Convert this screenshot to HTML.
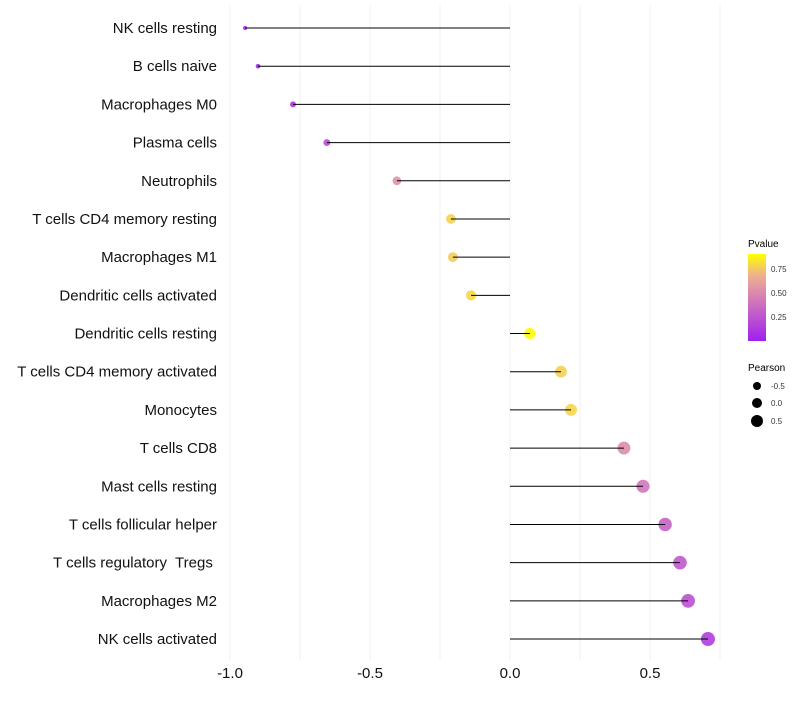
<!DOCTYPE html>
<html><head><meta charset="utf-8"><style>
body{margin:0;background:#fff;font-family:"Liberation Sans",sans-serif}
svg text{font-family:"Liberation Sans",sans-serif}
</style></head><body>
<svg id="c" width="800" height="700" xmlns="http://www.w3.org/2000/svg">
<defs><linearGradient id="pg" x1="0" y1="1" x2="0" y2="0">
<stop offset="0" stop-color="#A020F0"/><stop offset="0.5" stop-color="#D67FB5"/><stop offset="0.75" stop-color="#EDB090"/><stop offset="1" stop-color="#FFFF00"/></linearGradient></defs>
<g id="grid"></g>
<g id="marks"></g>
<g id="ylab"></g>
<g id="xlab"></g>
<g>
<text x="748" y="247" font-size="10">Pvalue</text>
<rect x="748" y="254" width="18" height="87" fill="url(#pg)"/>
<text x="771" y="272" font-size="8" fill="#333">0.75</text>
<text x="771" y="296" font-size="8" fill="#333">0.50</text>
<text x="771" y="320" font-size="8" fill="#333">0.25</text>
</g>
<g>
<text x="748" y="371" font-size="10">Pearson</text>
<circle cx="757" cy="386" r="4"/><text x="771" y="389" font-size="8" fill="#333">-0.5</text>
<circle cx="757" cy="403" r="5"/><text x="771" y="406" font-size="8" fill="#333">0.0</text>
<circle cx="757" cy="421" r="6"/><text x="771" y="424" font-size="8" fill="#333">0.5</text>
</g>
</svg>
<script>
const categories=["NK cells resting","B cells naive","Macrophages M0","Plasma cells","Neutrophils","T cells CD4 memory resting","Macrophages M1","Dendritic cells activated","Dendritic cells resting","T cells CD4 memory activated","Monocytes","T cells CD8","Mast cells resting","T cells follicular helper","T cells regulatory  Tregs ","Macrophages M2","NK cells activated"];
const pearson=[-0.946,-0.9,-0.775,-0.654,-0.404,-0.211,-0.204,-0.139,0.071,0.182,0.218,0.407,0.475,0.554,0.607,0.636,0.707];
const pvalue=[0.02,0.03,0.1,0.22,0.6,0.86,0.84,0.88,0.98,0.85,0.87,0.57,0.45,0.35,0.3,0.25,0.15];
const xTicks=[-1,-0.5,0,0.5];
const xTickLabels=["-1.0","-0.5","0.0","0.5"];
const NS="http://www.w3.org/2000/svg";
const x=v=>510+280*v;
const y=i=>28+i*38.19;
const r=v=>Math.sqrt(Math.max(1,29.9+27.3*v));
function lerp(a,b,t){return a.map((c,k)=>Math.round(c+(b[k]-c)*t));}
function col(p){const s=[[0,[160,32,240]],[0.5,[214,127,181]],[0.75,[237,176,144]],[1,[255,255,0]]];
for(let k=1;k<s.length;k++){if(p<=s[k][0]){const t=(p-s[k-1][0])/(s[k][0]-s[k-1][0]);return 'rgb('+lerp(s[k-1][1],s[k][1],t).join(',')+')';}}return 'rgb(255,255,0)';}
function mk(t,a,p){const e=document.createElementNS(NS,t);for(const k in a)e.setAttribute(k,a[k]);p.appendChild(e);return e;}
const grid=document.getElementById('grid'),marks=document.getElementById('marks'),yl=document.getElementById('ylab'),xl=document.getElementById('xlab');
for(let v=-1;v<=0.76;v+=0.25){const g=mk('line',{x1:x(v),x2:x(v),y1:5,y2:660,stroke:'#f0f0f0','stroke-width':1},grid);

}
xTicks.forEach((v,i)=>{const t=mk('text',{x:x(v),y:678,'font-size':15,'text-anchor':'middle',fill:'#111'},xl);t.textContent=xTickLabels[i];

});
categories.forEach((c,i)=>{
const t=mk('text',{x:217,y:y(i)+5,'font-size':15,'text-anchor':'end',fill:'#111','xml:space':'preserve'},yl);t.textContent=c;
t.style.whiteSpace='pre';


const d=mk('circle',{cx:x(pearson[i]),cy:y(i),r:r(pearson[i]),fill:col(pvalue[i]),'fill-opacity':0.9},marks);


const l=mk('line',{x1:x(0),x2:x(pearson[i]),y1:y(i),y2:y(i),stroke:'#000','stroke-width':1},marks);


});
</script>
</body></html>
